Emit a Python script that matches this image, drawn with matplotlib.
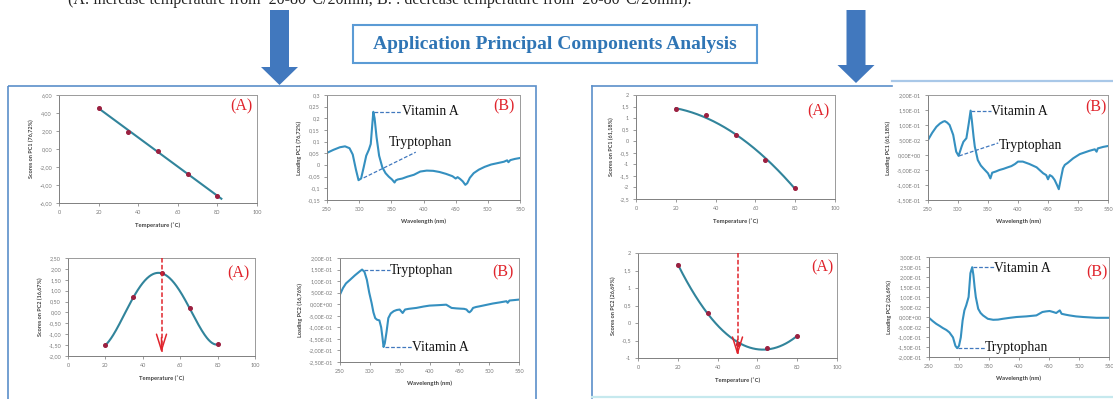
import numpy as np
import matplotlib
matplotlib.use('Agg')
import matplotlib.pyplot as plt
from matplotlib.patches import Polygon, Rectangle
from matplotlib.ticker import FuncFormatter, MultipleLocator

W, H = 1113, 399

# PCA scores vs temperature
temps = [20, 35, 50, 65, 80]
pc1_up = [4.6, 1.9, -0.2, -2.8, -5.2]
pc2_up = [-1.5, 0.7, 1.8, 0.2, -1.47]
pc1_down = [1.38, 1.12, 0.28, -0.8, -2.03]
pc2_down = [1.67, 0.30, -0.60, -0.71, -0.38]

# PCA loadings vs wavelength
wl_up1 = [250, 260, 270, 278, 285, 290, 295, 299, 303, 307, 311, 315, 318, 320, 322, 324, 327, 331,
          336, 341, 346, 351, 355, 357, 360, 367, 375, 385, 395, 405, 415, 425, 435, 445, 450, 453,
          457, 461, 465, 468, 472, 478, 486, 495, 505, 515, 525, 530, 532, 535, 542, 550]
load_up1 = [0.052, 0.065, 0.076, 0.080, 0.072, 0.045, -0.02, -0.065, -0.058, -0.01, 0.04, 0.065,
            0.09, 0.16, 0.228, 0.2, 0.12, 0.04, -0.01, -0.035, -0.05, -0.062, -0.075, -0.066,
            -0.062, -0.058, -0.05, -0.042, -0.028, -0.024, -0.025, -0.03, -0.038, -0.048, -0.058,
            -0.052, -0.06, -0.07, -0.085, -0.078, -0.055, -0.035, -0.02, -0.008, 0.002, 0.008,
            0.014, 0.02, 0.012, 0.021, 0.026, 0.030]

wl_up2 = [250, 255, 260, 267, 275, 283, 287, 291, 295, 299, 303, 306, 309, 312, 316, 319, 321, 323,
          325, 328, 331, 335, 340, 345, 350, 355, 359, 365, 378, 390, 400, 415, 428, 437, 445, 451,
          458, 462, 465, 467, 470, 473, 478, 484, 495, 506, 518, 529, 531, 534, 542, 550]
load_up2 = [0.042, 0.07, 0.09, 0.106, 0.125, 0.142, 0.15, 0.14, 0.106, 0.05, 0.005, -0.035, -0.06,
            -0.067, -0.07, -0.1, -0.14, -0.185, -0.17, -0.12, -0.06, -0.04, -0.03, -0.025, -0.023,
            -0.038, -0.023, -0.02, -0.016, -0.01, -0.006, -0.004, -0.002, -0.016, -0.018, -0.019,
            -0.02, -0.023, -0.032, -0.035, -0.028, -0.016, -0.012, -0.009, -0.003, 0.003, 0.008,
            0.013, 0.006, 0.016, 0.018, 0.02]

wl_down1 = [250, 257, 264, 270, 275, 278, 282, 286, 292, 297, 301, 306, 309, 314, 318, 321, 323, 326,
            328, 333, 338, 342, 350, 354, 357, 363, 369, 376, 383, 389, 395, 400, 408, 419, 431, 442,
            447, 450, 453, 457, 461, 465, 468, 471, 475, 478, 483, 492, 503, 519, 528, 531, 533, 542, 550]
load_down1 = [0.05, 0.074, 0.094, 0.105, 0.111, 0.113, 0.108, 0.1, 0.067, 0.011, -0.003, 0.028,
              0.044, 0.056, 0.106, 0.148, 0.117, 0.06, 0.028, -0.017, -0.035, -0.044, -0.061,
              -0.078, -0.059, -0.055, -0.05, -0.046, -0.041, -0.037, -0.03, -0.022, -0.022, -0.03,
              -0.041, -0.061, -0.067, -0.081, -0.067, -0.072, -0.083, -0.1, -0.114, -0.083, -0.044,
              -0.033, -0.026, -0.011, 0.003, 0.014, 0.019, 0.011, 0.022, 0.027, 0.03]

wl_down2 = [250, 256, 262, 268, 273, 279, 284, 290, 294, 297, 300, 303, 306, 309, 312, 316, 319, 322,
            324, 326, 328, 332, 336, 340, 348, 357, 365, 373, 385, 396, 412, 429, 439, 445, 451, 457,
            462, 468, 471, 477, 484, 495, 507, 518, 529, 540, 550]
load_down2 = [-0.004, -0.02, -0.034, -0.045, -0.055, -0.065, -0.077, -0.102, -0.144, -0.156, -0.144,
              -0.102, -0.018, 0.033, 0.058, 0.1, 0.219, 0.249, 0.21, 0.15, 0.1, 0.041, 0.02, 0.008,
              -0.009, -0.014, -0.013, -0.009, -0.004, 0.0, 0.003, 0.008, 0.025, 0.028, 0.03, 0.025,
              0.02, 0.033, 0.016, 0.012, 0.008, 0.003, 0.0, -0.002, -0.004, -0.004, -0.004]

LINE = '#3590c0'
TREND = '#31849b'
DOT = '#9b2040'
RED = '#e0242c'
BLUE = '#4178be'
SERIF = 'Liberation Serif'
SANS = 'Lato'

plt.rcParams['font.family'] = SANS

fig = plt.figure(figsize=(W / 100, H / 100), dpi=100)

# background layer in pixel coordinates for boxes, arrows and captions
bg = fig.add_axes([0, 0, 1, 1])
bg.set_xlim(0, W)
bg.set_ylim(H, 0)
bg.axis('off')

bg.text(68, 4.5, '(A: increase temperature from  20-80°C/20min; B: : decrease temperature from  20-80°C/20min).',
        family=SERIF, fontsize=11.5, color='#222222', ha='left', va='baseline')

for sx, tip_y in [(279.5, 85), (856, 83)]:
    bg.add_patch(Polygon([(sx - 9.5, 10), (sx + 9.5, 10), (sx + 9.5, tip_y - 18), (sx + 18.5, tip_y - 18),
                          (sx, tip_y), (sx - 18.5, tip_y - 18), (sx - 9.5, tip_y - 18)],
                         closed=True, color=BLUE, lw=0))

bg.add_patch(Rectangle((353, 25), 404, 38, fill=False, ec='#5b9bd5', lw=1.5))
bg.text(555, 44.5, 'Application Principal Components Analysis', family=SERIF, fontsize=14,
        fontweight='bold', color='#2f75b5', ha='center', va='center')

bg.add_patch(Rectangle((8, 86), 528, 330, fill=False, ec='#5b8fc9', lw=1.2))
bg.plot([592, 592], [86, 398], color='#5b8fc9', lw=1.2)
bg.plot([592, 892], [86, 86], color='#5b8fc9', lw=1.2)
bg.plot([892, W], [81, 81], color='#a9c8e8', lw=1.6)
bg.plot([592, W], [397, 397], color='#c6e9ee', lw=1.6)


def fmt_fixed(v, pos):
    return f"{round(v, 4) + 0.0:.2f}".replace('.', ',')


def fmt_plain(v, pos):
    return f"{round(v, 4) + 0.0:g}".replace('.', ',')


def fmt_sci(v, pos):
    return f"{round(v, 6) + 0.0:.2E}".replace('.', ',')


def panel(box, xlim, xstep, ylim, ystep, fmt, ylabel, xlabel):
    x0, y0, x1, y1 = box
    ax = fig.add_axes([x0 / W, 1 - y1 / H, (x1 - x0) / W, (y1 - y0) / H])
    ax.set_xlim(*xlim)
    ax.set_ylim(*ylim)
    ax.xaxis.set_major_locator(MultipleLocator(xstep))
    ax.yaxis.set_major_locator(MultipleLocator(ystep))
    ax.yaxis.set_major_formatter(FuncFormatter(fmt))
    ax.tick_params(labelsize=4, colors='#8a8a8a', labelcolor='#7a7a7a', length=2, width=0.6, pad=3)
    for s in ax.spines.values():
        s.set_color('#9a9a9a')
        s.set_linewidth(0.7)
    ax.spines['left'].set_color('#808080')
    ax.spines['bottom'].set_color('#808080')
    ax.set_ylabel(ylabel, fontsize=4, fontweight='bold', color='#404040', labelpad=4)
    ax.set_xlabel(xlabel, fontsize=4.2, fontweight='bold', color='#404040', labelpad=5)
    return ax


def tag(ax, label, fx, fy):
    ax.text(fx, fy, label, transform=ax.transAxes, family=SERIF, fontsize=11.5, color=RED,
            ha='right', va='center')


def scores(ax, y, deg, x_end=80):
    coef = np.polyfit(temps, y, deg)
    xs = np.linspace(temps[0], x_end, 200)
    ax.plot(xs, np.polyval(coef, xs), color=TREND, lw=1.5, zorder=2)
    ax.plot(temps, y, 'o', ms=2.6, color=DOT, zorder=3)


def peak_mark(ax, x, y_top, y_tip, head):
    ax.plot([x, x], [y_top, y_tip], color=RED, lw=1.1, ls=(0, (3, 1.5)), zorder=4)
    ax.annotate('', xy=(x, y_tip), xytext=(x, y_tip + head),
                arrowprops=dict(arrowstyle='->,head_length=1.15,head_width=0.36',
                                color=RED, lw=1.1, shrinkA=0, shrinkB=0), zorder=4)


def spectrum(ax, wl, load):
    ax.plot(wl, load, color=LINE, lw=1.5, solid_joinstyle='round')


def callout(ax, p0, p1, text, text_xy):
    ax.plot([p0[0], p1[0]], [p0[1], p1[1]], color=BLUE, lw=0.9, ls=(0, (3, 1.5)), clip_on=False)
    ax.text(text_xy[0], text_xy[1], text, family=SERIF, fontsize=9.8, color='#111111',
            ha='left', va='center')


T_LABEL = 'Temperature (˚C)'
W_LABEL = 'Wavelength (nm)'

# increasing temperature, PC1
ax = panel((59, 95, 257, 203), (0, 100), 20, (-6, 6), 2, fmt_fixed, 'Scores on PC1 (76,72%)', T_LABEL)
scores(ax, pc1_up, 1, x_end=82)
tag(ax, '(A)', 0.975, 0.89)

ax = panel((327, 95, 520, 200), (250, 550), 50, (-0.15, 0.3), 0.05, fmt_plain, 'Loading PC1 (76,72%)', W_LABEL)
spectrum(ax, wl_up1, load_up1)
callout(ax, (323, 0.228), (366, 0.228), 'Vitamin A', (366, 0.228))
callout(ax, (307, -0.055), (388, 0.055), 'Tryptophan', (346, 0.095))
tag(ax, '(B)', 0.974, 0.89)

# increasing temperature, PC2
ax = panel((68, 258, 255, 356), (0, 100), 20, (-2, 2.5), 0.5, fmt_fixed, 'Scores on PC2 (16,67%)', T_LABEL)
scores(ax, pc2_up, 4)
peak_mark(ax, 50, 2.5, -1.85, 0.7)
tag(ax, '(A)', 0.968, 0.845)

ax = panel((340, 258, 519, 362), (250, 550), 50, (-0.25, 0.2), 0.05, fmt_sci, 'Loading PC2 (16,76%)', W_LABEL)
spectrum(ax, wl_up2, load_up2)
callout(ax, (290, 0.148), (334, 0.148), 'Tryptophan', (334, 0.148))
callout(ax, (325, -0.186), (370, -0.186), 'Vitamin A', (370, -0.186))
tag(ax, '(B)', 0.97, 0.865)

# decreasing temperature, PC1
ax = panel((636, 95, 835, 199), (0, 100), 20, (-2.5, 2), 0.5, fmt_plain, 'Scores on PC1 (61,18%)', T_LABEL)
scores(ax, pc1_down, 2)
tag(ax, '(A)', 0.97, 0.84)

ax = panel((928, 95, 1108, 200), (250, 550), 50, (-0.15, 0.2), 0.05, fmt_sci, 'Loading PC1 (61,18%)', W_LABEL)
spectrum(ax, wl_down1, load_down1)
callout(ax, (322, 0.146), (355, 0.146), 'Vitamin A', (355, 0.145))
callout(ax, (302, -0.003), (367, 0.04), 'Tryptophan', (368, 0.03))
tag(ax, '(B)', 0.99, 0.88)

# decreasing temperature, PC2
ax = panel((638, 253, 837, 358), (0, 100), 20, (-1, 2), 0.5, fmt_plain, 'Scores on PC2 (26,69%)', T_LABEL)
scores(ax, pc2_down, 2)
peak_mark(ax, 50, 2, -0.93, 0.45)
tag(ax, '(A)', 0.98, 0.86)

ax = panel((929, 257, 1109, 357), (250, 550), 50, (-0.2, 0.3), 0.05, fmt_sci, 'Loading PC2 (26,69%)', W_LABEL)
spectrum(ax, wl_down2, load_down2)
callout(ax, (323, 0.248), (358, 0.248), 'Vitamin A', (358, 0.245))
callout(ax, (299, -0.155), (343, -0.155), 'Tryptophan', (343, -0.155))
tag(ax, '(B)', 0.99, 0.85)

fig.savefig('out.png', dpi=100)
